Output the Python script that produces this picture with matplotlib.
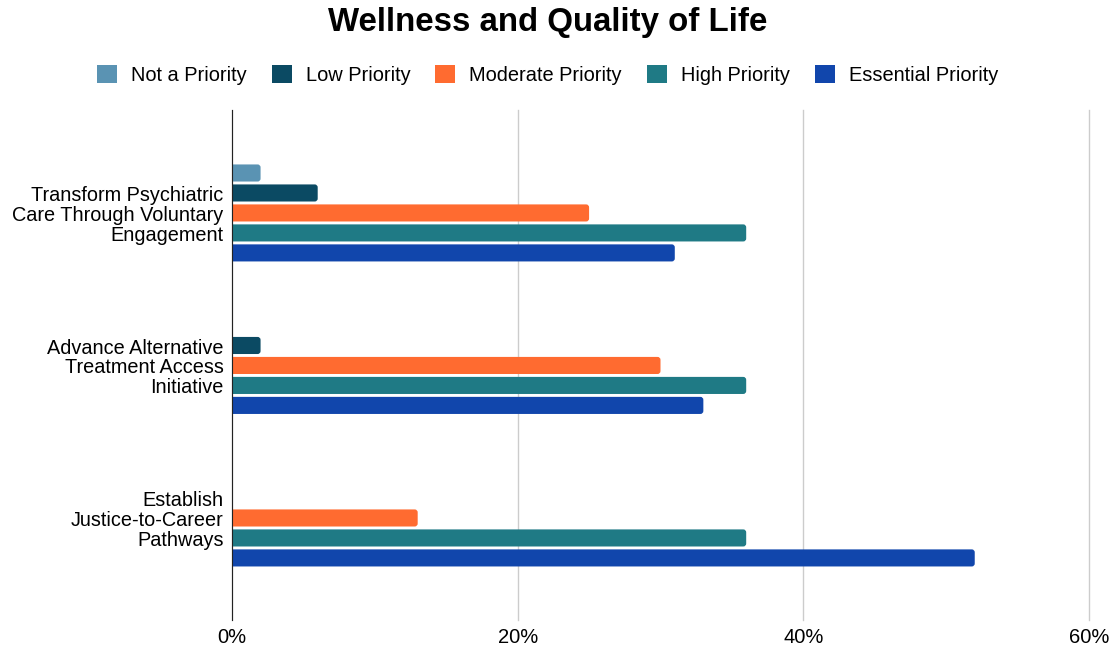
import numpy as np
import matplotlib.pyplot as plt
from matplotlib.patches import FancyBboxPatch

plt.rcParams['font.family'] = ['Liberation Sans', 'DejaVu Sans']

categories = ['Transform Psychiatric\nCare Through Voluntary\nEngagement',
              'Advance Alternative\nTreatment Access\nInitiative',
              'Establish\nJustice-to-Career\nPathways']
series = ['Not a Priority', 'Low Priority', 'Moderate Priority',
          'High Priority', 'Essential Priority']
colors = ['#5A93B3', '#0B4A63', '#FF6B30', '#1F7A85', '#1146AC']

not_priority = [2, 0, 0]
low_priority = [6, 2, 0]
moderate_priority = [25, 30, 13]
high_priority = [36, 36, 36]
essential_priority = [31, 33, 52]
values = [not_priority, low_priority, moderate_priority,
          high_priority, essential_priority]

xticks = [0, 20, 40, 60]

fig = plt.figure(figsize=(11.17, 6.53), dpi=100)
ax = fig.add_axes([232 / 1117, 1 - 620 / 653, (1089 - 232) / 1117, 510 / 653])

y = np.arange(len(categories))
step = 0.131
bh = 0.112

# rounded corners: radius in x units, scaled in y by the data aspect
px_x = 60 / 857.0
px_y = 3.344 / 510.0
rad = 3 * px_x
aspect = px_y / px_x

for i, (name, vals, col) in enumerate(zip(series, values, colors)):
    pos = y + (i - 2) * step
    bars = ax.barh(pos, vals, height=bh, color=col, label=name)
    for b in bars:
        w = b.get_width()
        b.set_visible(False)
        if w <= 0:
            continue
        p = FancyBboxPatch((-1, b.get_y()), w + 1, bh,
                           boxstyle='round,pad=0,rounding_size=%f' % rad,
                           mutation_aspect=aspect, facecolor=col,
                           edgecolor='none', zorder=3)
        ax.add_patch(p)

ax.set_xlim(0, 60)
ax.set_ylim(2.669, -0.675)
ax.set_xticks(xticks)
ax.set_xticklabels(['%d%%' % t for t in xticks], fontsize=14.5)
ax.set_yticks(y)
ax.set_yticklabels(categories, fontsize=14.3, linespacing=1.05)
ax.tick_params(length=0, pad=6)
ax.tick_params(axis='x', pad=6)
ax.xaxis.grid(True, color='#cccccc', linewidth=1)
for gl in ax.get_xgridlines():
    gl.set_clip_on(False)
ax.set_axisbelow(True)
for s in ['top', 'right', 'bottom']:
    ax.spines[s].set_visible(False)
ax.spines['left'].set_color('#222222')
ax.spines['left'].set_zorder(4)

fig.text(547.5 / 1117, 1 - 23 / 653, 'Wellness and Quality of Life',
         fontsize=23.8, fontweight='bold', ha='center', va='center')

handles = [plt.Rectangle((0, 0), 1, 1, facecolor=c, edgecolor='none') for c in colors]
fig.legend(handles, series, loc='center', bbox_to_anchor=(547.5 / 1117, 1 - 75 / 653),
           ncol=5, frameon=False, fontsize=14.4, handlelength=1.0, handleheight=1.0,
           handletextpad=0.7, columnspacing=1.25)

fig.savefig('out.png', dpi=100)
